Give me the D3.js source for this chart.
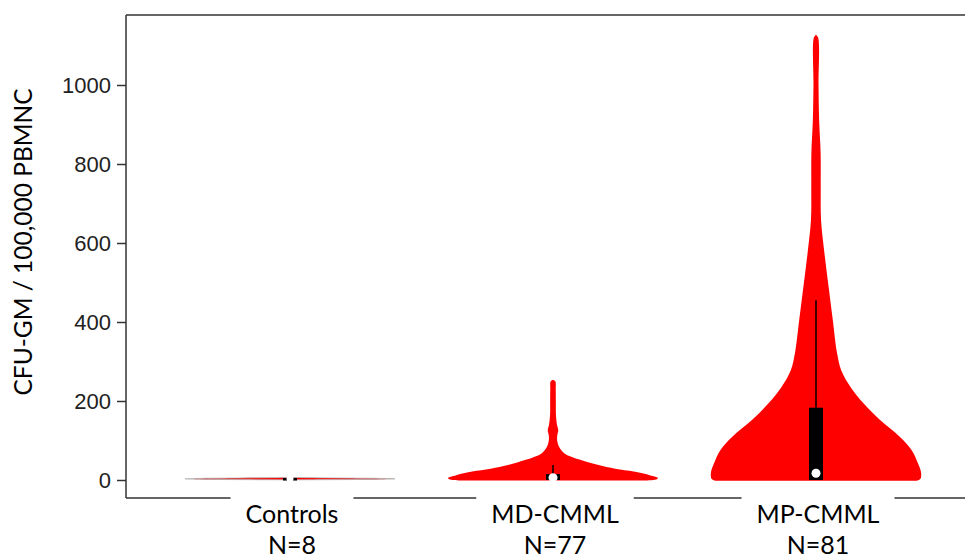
<!DOCTYPE html>
<html><head><meta charset="utf-8">
<script src="https://cdn.jsdelivr.net/npm/d3@7"></script>
<style>body{margin:0;background:#fff}svg{display:block}</style>
</head><body><svg id="c" width="965" height="558"></svg>
<script>
// ---- data ----
const categories = ["Controls", "MD-CMML", "MP-CMML"];
const counts = [8, 77, 81];
const yTicks = [0, 200, 400, 600, 800, 1000];
// violin outlines: [value, relative density (1 = widest)]
const controlsDensity = [[0.5,0.05],[1,0.5],[2,0.9],[3,1],[4,0.85],[5,0.5],[6,0.15],[6.5,0.02]];
const mdDensity = [[-1,0.9],[2,0.99],[5,1],[10,0.95],[18,0.84],[33,0.51],[51,0.26],[68,0.106],[84,0.058],[100,0.04],[112,0.04],[126,0.05],[140,0.038],[165,0.028],[195,0.027],[230,0.026],[250,0.022],[253,0.0]];
const mpDensity = [[-2,0.96],[3,0.995],[20,1],[43,0.97],[76,0.91],[109,0.8],[152,0.61],[195,0.45],[235,0.33],[278,0.24],[322,0.2],[405,0.16],[489,0.12],[575,0.08],[658,0.048],[740,0.045],[828,0.044],[911,0.03],[1000,0.024],[1120,0.02],[1127,0.0]];
const densities = [controlsDensity, mdDensity, mpDensity];
// box plot summaries
const q1 = [1.5, 0, 0];
const q3 = [5, 15, 183];
const whiskerHi = [5, 38, 455];
const medians = [3, 6, 17];

// ---- layout ----
const svg = d3.select("#c");
const mLeft = 126, mTop = 15, mBottom = 498, mRight = 975;
const y = d3.scaleLinear().domain([0, 1000]).range([480, 85]);
const x = d3.scaleLinear().domain([0, 2]).range([290, 816]);
const w = d3.scaleLinear().domain([0, 1]).range([0, 105]);
const red = "#ff0000";

// violins
densities.forEach((dens, i) => {
  const cx = x(i);
  const area = d3.area()
    .y(d => y(d[0]))
    .x0(d => cx - w(d[1]))
    .x1(d => cx + w(d[1]))
    .curve(d3.curveCatmullRom.alpha(0.5));
  svg.append("path").datum(dens).attr("d", area)
    .attr("fill", red).attr("stroke", i === 0 ? "#b0b0b0" : "none")
    .attr("stroke-width", i === 0 ? 0.8 : 0);
});

// boxes
const bw = 7;
categories.forEach((c, i) => {
  const cx = x(i);
  svg.append("line").attr("x1", cx).attr("x2", cx)
    .attr("y1", y(q3[i])).attr("y2", y(whiskerHi[i]))
    .attr("stroke", "#000").attr("stroke-width", 1.5);
  svg.append("rect").attr("x", cx - bw).attr("width", bw * 2)
    .attr("y", y(q3[i])).attr("height", Math.max(2.5, y(q1[i]) - y(q3[i])))
    .attr("fill", "#000");
  svg.append("circle").attr("cx", cx).attr("cy", y(medians[i])).attr("r", i === 0 ? 3.5 : 4.5)
    .attr("fill", "#fff");
});

// frame
const frameColor = "#333";
svg.append("line").attr("x1", mLeft).attr("x2", mRight).attr("y1", mTop).attr("y2", mTop)
  .attr("stroke", frameColor).attr("stroke-width", 1.5);
svg.append("line").attr("x1", mLeft).attr("x2", mRight).attr("y1", mBottom).attr("y2", mBottom)
  .attr("stroke", frameColor).attr("stroke-width", 1.5);

// y axis
const yAxis = d3.axisLeft(y).tickValues(yTicks).tickFormat(d3.format("d"))
  .tickSize(9).tickPadding(6).tickSizeOuter(0);
const ga = svg.append("g").attr("transform", `translate(${mLeft},0)`).call(yAxis);
ga.select(".domain").remove();
ga.selectAll(".tick line").attr("stroke", frameColor).attr("stroke-width", 1.5);
ga.selectAll(".tick text").attr("font-family", "'Liberation Sans', Arial, sans-serif")
  .attr("font-size", 22).attr("fill", "#222");
svg.append("line").attr("x1", mLeft).attr("x2", mLeft).attr("y1", mTop).attr("y2", mBottom)
  .attr("stroke", frameColor).attr("stroke-width", 1.5);

// y title
svg.append("text").attr("transform", "translate(32,242) rotate(-90)")
  .attr("text-anchor", "middle").attr("font-family", "Lato, 'Open Sans', sans-serif")
  .attr("font-size", 24.5).attr("fill", "#000").text("CFU-GM / 100,000 PBMNC");

// category labels with white backing
categories.forEach((c, i) => {
  const cx = x(i) + 2;
  const g = svg.append("g");
  const bg = g.append("rect").attr("fill", "#fff");
  const t1 = g.append("text").attr("x", cx).attr("y", 523).attr("text-anchor", "middle")
    .attr("font-family", "Lato, 'Open Sans', sans-serif").attr("font-size", 25).text(c);
  const t2 = g.append("text").attr("x", cx).attr("y", 554).attr("text-anchor", "middle")
    .attr("font-family", "Lato, 'Open Sans', sans-serif").attr("font-size", 25).text("N=" + counts[i]);
  const wmax = Math.max(t1.node().getComputedTextLength(), t2.node().getComputedTextLength());
  bg.attr("x", cx - wmax / 2 - 15).attr("width", wmax + 30).attr("y", 490).attr("height", 68);
});
</script></body></html>
